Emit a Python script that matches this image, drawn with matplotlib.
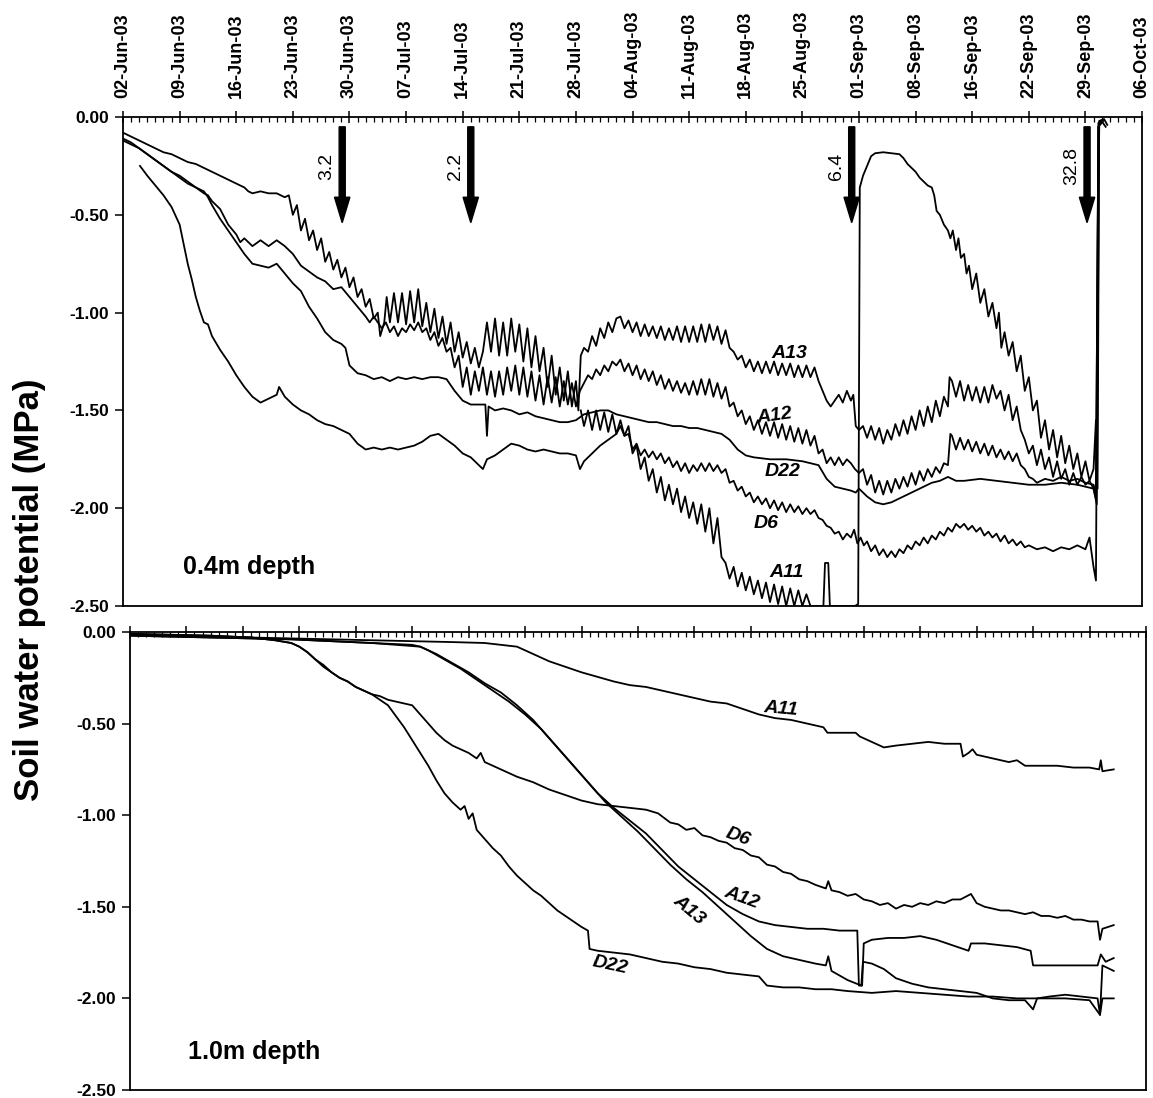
import matplotlib
matplotlib.use("Agg")
import matplotlib.pyplot as plt
from matplotlib.ticker import MultipleLocator

plt.rcParams['font.family'] = ['Liberation Sans', 'DejaVu Sans']

# x axis: days since 02-Jun-03
week_days = list(range(0, 127, 7))
week_labels = ['02-Jun-03', '09-Jun-03', '16-Jun-03', '23-Jun-03', '30-Jun-03',
               '07-Jul-03', '14-Jul-03', '21-Jul-03', '28-Jul-03', '04-Aug-03',
               '11-Aug-03', '18-Aug-03', '25-Aug-03', '01-Sep-03', '08-Sep-03',
               '16-Sep-03', '22-Sep-03', '29-Sep-03', '06-Oct-03']
y_ticks = [0.0, -0.5, -1.0, -1.5, -2.0, -2.5]

# rain events (day, mm)
rain_days = [27.1, 43.0, 90.1, 119.2]
rain_mm = ['3.2', '2.2', '6.4', '32.8']

# ---- 0.4 m depth: (day, soil water potential MPa) ----
top_a13 = [(0, -0.08), (1, -0.10), (2, -0.12), (3, -0.14), (4, -0.16), (5, -0.18), (6, -0.19),
           (7, -0.21), (8, -0.23), (9, -0.24), (10, -0.26), (11, -0.28), (12, -0.30), (13, -0.32),
           (14, -0.34), (15, -0.36), (15.5, -0.38), (16, -0.39), (17, -0.38), (18, -0.39),
           (19, -0.39), (20, -0.41), (20.5, -0.40),
           (21, -0.50), (21.5, -0.45), (22, -0.58), (22.5, -0.52), (23, -0.63), (23.5, -0.58),
           (24, -0.68), (24.5, -0.62), (25, -0.74), (25.5, -0.69), (26, -0.78), (26.5, -0.73),
           (27, -0.82), (27.5, -0.77), (28, -0.87), (28.5, -0.82), (29, -0.92), (29.5, -0.88),
           (30, -0.97), (30.5, -0.93), (31, -1.03), (31.5, -1.00), (31.8, -1.12),
           (32.3, -1.05), (32.6, -0.92), (33, -1.05), (33.5, -0.90), (34, -1.05), (34.5, -0.90),
           (35, -1.06), (35.5, -0.89), (36, -1.05), (36.5, -0.88), (37, -1.07), (37.5, -0.95),
           (38, -1.10), (38.5, -0.98), (39, -1.13), (39.5, -1.02), (40, -1.16), (40.5, -1.05),
           (41, -1.20), (41.5, -1.10), (42, -1.23), (42.5, -1.15), (43, -1.26), (43.5, -1.18),
           (44, -1.28), (44.5, -1.20),
           (45, -1.05), (45.5, -1.20), (46, -1.03), (46.5, -1.22), (47, -1.05), (47.5, -1.22),
           (48, -1.03), (48.5, -1.20), (49, -1.06), (49.5, -1.25), (50, -1.08), (50.5, -1.28),
           (51, -1.12), (51.5, -1.30), (52, -1.18), (52.5, -1.38), (53, -1.22), (53.5, -1.42),
           (54, -1.28), (54.5, -1.45), (55, -1.30), (55.5, -1.48), (56, -1.35), (56.3, -1.50),
           (56.6, -1.22), (57, -1.18), (57.5, -1.20), (58, -1.12), (58.5, -1.17), (59, -1.08),
           (59.5, -1.13), (60, -1.05), (60.5, -1.10), (61, -1.03), (61.5, -1.02), (62, -1.08),
           (62.5, -1.04), (63, -1.10), (63.5, -1.05), (64, -1.12), (64.5, -1.06), (65, -1.12),
           (65.5, -1.07), (66, -1.13), (66.5, -1.07), (67, -1.14), (67.5, -1.08), (68, -1.14),
           (68.5, -1.07), (69, -1.15), (69.5, -1.07), (70, -1.15), (70.5, -1.07), (71, -1.15),
           (71.5, -1.06), (72, -1.15), (72.5, -1.06), (73, -1.14), (73.5, -1.07), (74, -1.16),
           (74.5, -1.09), (75, -1.18), (75.5, -1.20), (76, -1.24), (76.5, -1.22), (77, -1.28),
           (77.5, -1.24), (78, -1.30), (78.5, -1.25), (79, -1.31), (79.5, -1.25), (80, -1.31),
           (80.5, -1.25), (81, -1.32), (81.5, -1.26), (82, -1.32), (82.5, -1.26), (83, -1.33),
           (83.5, -1.27), (84, -1.33), (84.5, -1.27), (85, -1.33), (85.5, -1.28), (86, -1.35),
           (86.5, -1.40), (87, -1.45), (87.5, -1.48), (88, -1.45), (88.5, -1.42), (89, -1.46),
           (89.5, -1.40), (90, -1.45), (90.3, -1.42), (90.6, -1.58),
           (91, -1.60), (91.5, -1.58), (92, -1.64), (92.5, -1.58), (93, -1.65), (93.5, -1.59),
           (94, -1.67), (94.5, -1.60), (95, -1.65), (95.5, -1.57), (96, -1.63), (96.5, -1.55),
           (97, -1.62), (97.5, -1.53), (98, -1.60), (98.5, -1.50), (99, -1.58), (99.5, -1.48),
           (100, -1.56), (100.5, -1.45), (101, -1.53), (101.5, -1.43), (102, -1.48), (102.2, -1.33),
           (102.5, -1.35), (103, -1.43), (103.5, -1.35), (104, -1.45), (104.5, -1.37), (105, -1.45),
           (105.5, -1.38), (106, -1.46), (106.5, -1.38), (107, -1.46), (107.5, -1.37), (108, -1.44),
           (108.5, -1.40), (109, -1.50), (109.5, -1.42), (110, -1.55), (110.5, -1.48), (111, -1.60),
           (111.5, -1.65), (112, -1.72), (112.5, -1.68), (113, -1.78), (113.5, -1.70), (114, -1.80),
           (114.5, -1.74), (115, -1.84), (115.5, -1.76), (116, -1.85), (116.5, -1.80), (117, -1.88),
           (117.5, -1.82), (118, -1.88), (118.5, -1.84), (119, -1.88), (119.5, -1.86), (120, -1.90),
           (120.3, -1.95), (120.6, -0.03), (121, -0.02), (121.5, -0.05)]

top_a12 = [(0, -0.11), (1, -0.13), (2, -0.16), (3, -0.19), (4, -0.22), (5, -0.25), (6, -0.28),
           (7, -0.30), (8, -0.33), (9, -0.36), (10, -0.39), (10.5, -0.40), (11, -0.43), (12, -0.47),
           (13, -0.55), (14, -0.60), (14.5, -0.64), (15, -0.62), (16, -0.66), (17, -0.63),
           (18, -0.66), (19, -0.63), (20, -0.66), (21, -0.70), (22, -0.76), (23, -0.79), (24, -0.82),
           (25, -0.84), (26, -0.88), (27, -0.87), (28, -0.92), (29, -0.97), (30, -1.02), (30.5, -1.05),
           (31, -1.02), (32, -1.08), (32.5, -1.05), (33, -1.10), (33.5, -1.07), (34, -1.12),
           (34.5, -1.08), (35, -1.10), (35.5, -1.06), (36, -1.09), (36.5, -1.05), (37, -1.10),
           (37.5, -1.08), (38, -1.14), (38.5, -1.10), (39, -1.17), (39.5, -1.13), (40, -1.20),
           (40.5, -1.18), (41, -1.28), (41.5, -1.22), (42, -1.38), (42.5, -1.28), (43, -1.42),
           (43.5, -1.30), (44, -1.40), (44.5, -1.28), (45, -1.42), (45.5, -1.30), (46, -1.43),
           (46.5, -1.30), (47, -1.42), (47.5, -1.28), (48, -1.40), (48.5, -1.27), (49, -1.42),
           (49.5, -1.28), (50, -1.43), (50.5, -1.30), (51, -1.45), (51.5, -1.32), (52, -1.47),
           (52.5, -1.33), (53, -1.46), (53.5, -1.33), (54, -1.48), (54.5, -1.35), (55, -1.47),
           (55.5, -1.36), (56, -1.48), (56.5, -1.40),
           (57, -1.36), (57.5, -1.32), (58, -1.34), (58.5, -1.29), (59, -1.32), (59.5, -1.27),
           (60, -1.30), (60.5, -1.25), (61, -1.27), (61.5, -1.24), (62, -1.30), (62.5, -1.26),
           (63, -1.32), (63.5, -1.27), (64, -1.34), (64.5, -1.29), (65, -1.35), (65.5, -1.30),
           (66, -1.37), (66.5, -1.32), (67, -1.39), (67.5, -1.34), (68, -1.40), (68.5, -1.35),
           (69, -1.41), (69.5, -1.36), (70, -1.42), (70.5, -1.35), (71, -1.42), (71.5, -1.34),
           (72, -1.42), (72.5, -1.34), (73, -1.43), (73.5, -1.36), (74, -1.44), (74.5, -1.38),
           (75, -1.48), (75.5, -1.46), (76, -1.53), (76.5, -1.50), (77, -1.57), (77.5, -1.53),
           (78, -1.60), (78.5, -1.55), (79, -1.62), (79.5, -1.56), (80, -1.63), (80.5, -1.56),
           (81, -1.64), (81.5, -1.57), (82, -1.65), (82.5, -1.58), (83, -1.66), (83.5, -1.59),
           (84, -1.67), (84.5, -1.60), (85, -1.68), (85.5, -1.63), (86, -1.72), (86.5, -1.70),
           (87, -1.77), (87.5, -1.74), (88, -1.78), (88.5, -1.74), (89, -1.78), (89.5, -1.75),
           (90, -1.77), (90.5, -1.80),
           (91, -1.82), (91.5, -1.80), (92, -1.88), (92.5, -1.83), (93, -1.92), (93.5, -1.86),
           (94, -1.93), (94.5, -1.86), (95, -1.92), (95.5, -1.85), (96, -1.90), (96.5, -1.84),
           (97, -1.89), (97.5, -1.82), (98, -1.88), (98.5, -1.81), (99, -1.86), (99.5, -1.80),
           (100, -1.84), (100.5, -1.79), (101, -1.82), (101.5, -1.77), (102, -1.78), (102.3, -1.62),
           (102.5, -1.63), (103, -1.70), (103.5, -1.64), (104, -1.70), (104.5, -1.65), (105, -1.71),
           (105.5, -1.66), (106, -1.72), (106.5, -1.67), (107, -1.73), (107.5, -1.68), (108, -1.74),
           (108.5, -1.70), (109, -1.75), (109.5, -1.71), (110, -1.76), (110.5, -1.72), (111, -1.78),
           (111.5, -1.80), (112, -1.84), (112.5, -1.85), (113, -1.87), (114, -1.85), (115, -1.86),
           (116, -1.84), (117, -1.86), (118, -1.85), (119, -1.87), (120, -1.88), (120.3, -1.92),
           (120.6, -0.05), (121, -0.03)]

top_d22 = [(0, -0.12), (1, -0.14), (2, -0.16), (3, -0.19), (4, -0.22), (5, -0.25), (6, -0.28),
           (7, -0.31), (8, -0.34), (9, -0.36), (10, -0.38), (10.5, -0.41), (11, -0.45), (12, -0.52),
           (13, -0.58), (14, -0.64), (15, -0.70), (16, -0.75), (17, -0.76), (18, -0.77), (19, -0.75),
           (20, -0.80), (21, -0.85), (22, -0.89), (23, -0.97), (24, -1.03), (25, -1.10), (26, -1.14),
           (27, -1.16), (27.5, -1.18), (28, -1.27), (29, -1.31), (30, -1.32), (31, -1.34), (32, -1.33),
           (33, -1.35), (34, -1.33), (35, -1.34), (36, -1.33), (37, -1.34), (38, -1.33), (39, -1.33),
           (40, -1.34), (41, -1.40), (42, -1.45), (43, -1.47), (44, -1.47), (44.8, -1.47),
           (45, -1.63), (45.2, -1.48), (46, -1.50), (47, -1.49), (48, -1.50), (49, -1.52), (50, -1.51),
           (51, -1.53), (52, -1.54), (53, -1.55), (54, -1.56), (55, -1.56), (56, -1.55), (57, -1.52),
           (58, -1.51), (59, -1.50), (60, -1.50), (61, -1.52), (62, -1.53), (63, -1.54), (64, -1.55),
           (65, -1.56), (66, -1.56), (67, -1.57), (68, -1.58), (69, -1.58), (70, -1.59), (71, -1.59),
           (72, -1.60), (73, -1.61), (74, -1.62), (75, -1.65), (76, -1.70), (77, -1.73), (78, -1.74),
           (80, -1.75), (82, -1.75), (84, -1.76), (86, -1.78), (87, -1.85), (88, -1.89), (89, -1.90),
           (90, -1.91), (90.6, -1.92), (91, -1.90), (92, -1.94), (93, -1.97), (94, -1.98), (95, -1.97),
           (96, -1.95), (97, -1.93), (98, -1.91), (99, -1.89), (100, -1.87), (101, -1.86),
           (102, -1.84), (103, -1.86), (104, -1.86), (106, -1.85), (108, -1.86), (110, -1.87),
           (112, -1.88), (114, -1.88), (116, -1.87), (118, -1.88), (120, -1.90), (120.4, -1.98),
           (120.7, -0.04), (121.2, -0.02)]

top_d6 = [(2.1, -0.25), (3, -0.30), (4, -0.35), (5, -0.40), (6, -0.46), (7, -0.55), (7.5, -0.65),
          (8, -0.75), (8.5, -0.83), (9, -0.92), (9.5, -0.99), (10, -1.05), (10.5, -1.06), (11, -1.12),
          (12, -1.19), (13, -1.25), (14, -1.32), (15, -1.38), (16, -1.43), (17, -1.46), (18, -1.44),
          (19, -1.42), (19.3, -1.38), (20, -1.43), (21, -1.47), (22, -1.50), (23, -1.52), (24, -1.55),
          (25, -1.57), (26, -1.58), (27, -1.60), (28, -1.62), (29, -1.67), (30, -1.70), (31, -1.69),
          (32, -1.70), (33, -1.69), (34, -1.70), (35, -1.69), (36, -1.68), (37, -1.66), (38, -1.63),
          (39, -1.62), (40, -1.65), (41, -1.68), (42, -1.72), (43, -1.74), (44, -1.78), (44.5, -1.80),
          (45, -1.75), (46, -1.73), (47, -1.70), (48, -1.67), (49, -1.68), (50, -1.70), (51, -1.71),
          (52, -1.70), (53, -1.71), (54, -1.72), (55, -1.72), (56, -1.73), (56.5, -1.80), (57, -1.76),
          (58, -1.72), (59, -1.68), (60, -1.65), (61, -1.62), (61.5, -1.58), (62, -1.63),
          (62.5, -1.62), (63, -1.70), (63.5, -1.67), (64, -1.73), (64.5, -1.70), (65, -1.74),
          (65.5, -1.71), (66, -1.75), (66.5, -1.72), (67, -1.77), (67.5, -1.74), (68, -1.79),
          (68.5, -1.76), (69, -1.81), (69.5, -1.77), (70, -1.82), (70.5, -1.78), (71, -1.81),
          (71.5, -1.77), (72, -1.81), (72.5, -1.77), (73, -1.81), (73.5, -1.78), (74, -1.82),
          (74.5, -1.80), (75, -1.87), (75.5, -1.86), (76, -1.91), (76.5, -1.89), (77, -1.94),
          (77.5, -1.92), (78, -1.97), (78.5, -1.94), (79, -1.98), (79.5, -1.95), (80, -2.00),
          (80.5, -1.96), (81, -2.01), (81.5, -1.97), (82, -2.02), (82.5, -1.98), (83, -2.02),
          (83.5, -1.99), (84, -2.03), (84.5, -2.00), (85, -2.03), (85.5, -2.01), (86, -2.05),
          (86.5, -2.06), (87, -2.09), (87.5, -2.10), (88, -2.13), (88.5, -2.12), (89, -2.16),
          (89.5, -2.13), (90, -2.15), (90.4, -2.11), (90.8, -2.18), (91.2, -2.15), (91.6, -2.19),
          (92, -2.17), (92.5, -2.22), (93, -2.19), (93.5, -2.24), (94, -2.21), (94.5, -2.25),
          (95, -2.22), (95.5, -2.25), (96, -2.21), (96.5, -2.23), (97, -2.19), (97.5, -2.21),
          (98, -2.17), (98.5, -2.19), (99, -2.15), (99.5, -2.18), (100, -2.14), (100.5, -2.16),
          (101, -2.12), (101.5, -2.14), (102, -2.10), (102.5, -2.12), (103, -2.08), (103.5, -2.10),
          (104, -2.08), (104.5, -2.11), (105, -2.09), (105.5, -2.12), (106, -2.10), (106.5, -2.14),
          (107, -2.12), (107.5, -2.15), (108, -2.13), (108.5, -2.17), (109, -2.14), (109.5, -2.18),
          (110, -2.16), (110.5, -2.19), (111, -2.17), (111.5, -2.20), (112, -2.19), (113, -2.21),
          (114, -2.20), (115, -2.22), (116, -2.20), (117, -2.21), (118, -2.19), (119, -2.21),
          (119.5, -2.15), (120, -2.30), (120.3, -2.37), (120.6, -0.05), (121, -0.02)]

top_a11 = [(56.6, -1.50), (57, -1.58), (57.5, -1.50), (58, -1.60), (58.5, -1.50), (59, -1.60),
           (59.5, -1.51), (60, -1.61), (60.5, -1.52), (61, -1.62), (61.5, -1.55), (62, -1.63),
           (62.5, -1.58), (63, -1.72), (63.5, -1.68), (64, -1.80), (64.5, -1.74), (65, -1.86),
           (65.5, -1.80), (66, -1.92), (66.5, -1.84), (67, -1.96), (67.5, -1.88), (68, -1.98),
           (68.5, -1.90), (69, -2.02), (69.5, -1.94), (70, -2.05), (70.5, -1.97), (71, -2.08),
           (71.5, -1.98), (72, -2.12), (72.5, -2.00), (73, -2.18), (73.5, -2.05), (74, -2.25),
           (74.5, -2.28), (75, -2.36), (75.5, -2.30), (76, -2.40), (76.5, -2.33), (77, -2.42),
           (77.5, -2.35), (78, -2.44), (78.5, -2.37), (79, -2.46), (79.5, -2.38), (80, -2.48),
           (80.5, -2.39), (81, -2.49), (81.5, -2.40), (82, -2.50), (82.5, -2.41), (83, -2.50),
           (83.5, -2.42), (84, -2.50), (84.5, -2.44), (85, -2.50), (85.5, -2.50), (86.6, -2.50),
           (86.8, -2.28), (87.2, -2.28), (87.4, -2.50), (90.5, -2.50), (90.9, -2.49),
           (91.1, -0.36), (91.5, -0.30), (92, -0.25), (92.5, -0.20), (93, -0.185), (94, -0.18),
           (95, -0.185), (96, -0.19), (96.5, -0.21), (97, -0.24), (97.5, -0.26), (98, -0.28),
           (98.5, -0.31), (99, -0.33), (99.5, -0.35), (100, -0.36), (100.3, -0.40), (100.6, -0.48),
           (101, -0.50), (101.5, -0.55), (102, -0.58), (102.3, -0.62), (102.6, -0.58), (103, -0.68),
           (103.3, -0.62), (103.6, -0.72), (104, -0.70), (104.3, -0.80), (104.6, -0.76),
           (105, -0.88), (105.5, -0.80), (106, -0.95), (106.5, -0.88), (107, -1.02), (107.5, -0.95),
           (108, -1.08), (108.3, -1.00), (108.6, -1.18), (109, -1.10), (109.5, -1.22), (110, -1.15),
           (110.5, -1.30), (111, -1.22), (111.5, -1.40), (112, -1.33), (112.5, -1.50), (113, -1.45),
           (113.5, -1.64), (114, -1.55), (114.5, -1.70), (115, -1.60), (115.5, -1.74), (116, -1.63),
           (116.5, -1.77), (117, -1.68), (117.5, -1.80), (118, -1.72), (118.5, -1.84), (119, -1.76),
           (119.5, -1.86), (120, -1.80), (120.3, -1.55), (120.5, -1.90), (120.7, -0.02),
           (121.3, -0.01), (121.7, -0.04)]

# ---- 1.0 m depth ----
bot_a11 = [(0, -0.015), (5, -0.02), (10, -0.025), (15, -0.03), (20, -0.035), (25, -0.04),
           (30, -0.045), (35, -0.05), (40, -0.055), (44, -0.06), (48, -0.08), (50, -0.12),
           (52, -0.16), (54, -0.19), (56, -0.22), (58, -0.245), (60, -0.27), (62, -0.29),
           (64, -0.30), (66, -0.32), (68, -0.34), (70, -0.36), (72, -0.38), (74, -0.39),
           (76, -0.42), (78, -0.45), (80, -0.47), (82, -0.48), (84, -0.50), (86, -0.52),
           (86.5, -0.55), (88, -0.55), (90, -0.55), (90.5, -0.57), (92, -0.60), (93.5, -0.63),
           (95, -0.62), (97, -0.61), (99, -0.60), (101, -0.61), (103, -0.61), (103.3, -0.68),
           (104, -0.66), (104.5, -0.64), (105, -0.67), (107, -0.69), (109, -0.71), (110, -0.70),
           (111, -0.73), (113, -0.73), (115, -0.73), (117, -0.74), (119, -0.74), (120.2, -0.75),
           (120.4, -0.70), (120.6, -0.76), (122, -0.75)]

bot_d6 = [(0, -0.01), (5, -0.015), (10, -0.02), (15, -0.03), (18, -0.045), (20, -0.06), (21, -0.08),
          (22, -0.11), (23, -0.15), (24, -0.18), (25, -0.22), (26, -0.25), (27, -0.27), (28, -0.30),
          (29, -0.32), (30, -0.34), (31, -0.35), (32, -0.37), (33, -0.38), (34, -0.39), (35, -0.40),
          (36, -0.45), (37, -0.50), (38, -0.55), (39, -0.59), (40, -0.62), (41, -0.64), (42, -0.66),
          (43, -0.69), (43.5, -0.66), (44, -0.71), (45, -0.73), (46, -0.75), (47, -0.77), (48, -0.79),
          (50, -0.82), (52, -0.86), (54, -0.89), (56, -0.92), (58, -0.94), (60, -0.95), (62, -0.96),
          (64, -0.97), (65.5, -0.99), (67, -1.04), (68, -1.05), (69, -1.08), (70, -1.07), (71, -1.11),
          (72, -1.12), (73, -1.14), (74, -1.15), (75, -1.18), (76, -1.19), (77, -1.22), (78, -1.23),
          (79, -1.27), (80, -1.28), (81, -1.31), (82, -1.32), (83, -1.35), (84, -1.36), (85, -1.38),
          (86.3, -1.40), (86.6, -1.36), (87, -1.41), (88, -1.42), (89, -1.44), (90, -1.43),
          (91, -1.46), (92, -1.47), (93, -1.49), (94, -1.48), (95, -1.51), (96, -1.49), (97, -1.50),
          (98, -1.48), (99, -1.49), (100, -1.47), (101, -1.48), (102, -1.46), (103, -1.46),
          (104.3, -1.43), (105, -1.48), (106, -1.50), (107, -1.51), (108, -1.52), (109, -1.52),
          (110, -1.53), (111, -1.54), (112, -1.53), (113, -1.55), (114, -1.55), (115, -1.56),
          (116, -1.55), (117, -1.57), (118, -1.57), (119, -1.58), (120, -1.58), (120.3, -1.68),
          (120.6, -1.62), (122, -1.60)]

bot_d22 = [(0, -0.01), (5, -0.015), (10, -0.02), (15, -0.03), (18, -0.045), (20, -0.06),
           (21, -0.08), (22, -0.11), (23, -0.15), (24, -0.19), (25, -0.22), (26, -0.25), (27, -0.27),
           (28, -0.30), (29, -0.32), (30, -0.34), (31, -0.37), (32, -0.40), (33, -0.46), (34, -0.52),
           (35, -0.59), (36, -0.66), (37, -0.73), (38, -0.81), (39, -0.88), (40, -0.93), (41, -0.97),
           (41.5, -0.95), (42, -1.02), (42.5, -0.99), (43, -1.08), (44, -1.13), (45, -1.18),
           (46, -1.22), (47, -1.28), (48, -1.33), (49, -1.37), (50, -1.41), (51, -1.44), (52, -1.48),
           (53, -1.52), (54, -1.55), (55, -1.58), (56, -1.61), (56.8, -1.63), (57, -1.73),
           (58, -1.74), (60, -1.75), (62, -1.76), (64, -1.78), (66, -1.80), (68, -1.81), (70, -1.83),
           (72, -1.84), (74, -1.86), (76, -1.87), (78, -1.88), (79, -1.93), (81, -1.94), (83, -1.94),
           (85, -1.95), (87, -1.95), (89, -1.96), (92, -1.97), (95, -1.96), (98, -1.97),
           (101, -1.98), (104, -1.99), (107, -1.99), (110, -2.00), (113, -2.00), (116, -2.00),
           (119, -2.01), (120.3, -2.09), (120.6, -2.00), (122, -2.00)]

bot_a12 = [(0, -0.02), (10, -0.03), (20, -0.04), (25, -0.05), (30, -0.06), (35, -0.07),
           (36, -0.08), (38, -0.12), (40, -0.17), (42, -0.22), (44, -0.28), (46, -0.33), (48, -0.40),
           (50, -0.48), (52, -0.58), (54, -0.68), (56, -0.78), (58, -0.88), (60, -0.96), (62, -1.03),
           (64, -1.10), (66, -1.19), (68, -1.28), (70, -1.35), (72, -1.42), (74, -1.49), (76, -1.54),
           (78, -1.58), (80, -1.60), (82, -1.61), (84, -1.62), (86, -1.62), (88, -1.63),
           (90.2, -1.63), (90.4, -1.93), (90.8, -1.93), (91, -1.70), (92, -1.68), (94, -1.67),
           (96, -1.67), (98, -1.66), (100, -1.68), (102, -1.71), (104, -1.74), (104.3, -1.70),
           (106, -1.70), (108, -1.71), (110, -1.72), (111.7, -1.74), (112, -1.82), (114, -1.82),
           (116, -1.82), (118, -1.82), (120, -1.82), (120.4, -1.76), (121, -1.80), (122, -1.78)]

bot_a13 = [(0, -0.02), (10, -0.03), (20, -0.04), (25, -0.05), (30, -0.06), (36, -0.08),
           (37, -0.10), (39, -0.15), (41, -0.20), (43, -0.26), (45, -0.32), (47, -0.38), (49, -0.45),
           (51, -0.53), (53, -0.63), (55, -0.73), (57, -0.83), (59, -0.93), (61, -1.01), (63, -1.09),
           (65, -1.18), (67, -1.27), (69, -1.35), (71, -1.42), (73, -1.50), (75, -1.58), (77, -1.66),
           (79, -1.73), (81, -1.77), (83, -1.79), (85, -1.81), (86.3, -1.82), (86.6, -1.77),
           (87, -1.85), (89, -1.90), (90.7, -1.93), (90.9, -1.80), (92, -1.81), (93.5, -1.84),
           (95, -1.89), (97, -1.92), (99, -1.94), (101, -1.95), (103, -1.96), (105, -1.97),
           (107, -2.00), (109, -2.01), (111, -2.01), (112, -2.06), (112.5, -2.00), (114, -1.99),
           (116, -1.98), (118, -1.99), (120, -2.00), (120.3, -2.09), (120.6, -1.82), (122, -1.85)]

top_series = [top_a13, top_a12, top_d22, top_d6, top_a11]
bot_series = [bot_a11, bot_d6, bot_d22, bot_a12, bot_a13]

# series name labels: name -> (day, MPa, rotation)
top_names = {'A13': (82.4, -1.21, 0), 'A12': (80.6, -1.53, 8), 'D22': (81.5, -1.81, 0),
             'D6': (79.5, -2.08, 0), 'A11': (82.1, -2.33, 0)}
bot_names = {'A11': (80.7, -0.42, -5), 'D6': (75.4, -1.12, -20), 'A12': (75.9, -1.45, -20),
             'A13': (69.3, -1.52, -40), 'D22': (59.5, -1.82, -12)}


def style_axis(ax, date_labels):
    ax.set_xlim(0, 126)
    ax.set_ylim(-2.5, 0)
    ax.set_xticks(week_days)
    ax.xaxis.set_minor_locator(MultipleLocator(1))
    ax.tick_params(axis='x', which='major', direction='inout', length=9, width=1.1,
                   top=True, bottom=False, labeltop=date_labels, labelbottom=False, pad=9)
    ax.tick_params(axis='x', which='minor', direction='in', length=3.5, width=0.9,
                   top=True, bottom=False)
    if date_labels:
        ax.set_xticklabels(week_labels, rotation=90, fontsize=13, fontweight='bold')
    ax.set_yticks(y_ticks)
    ax.set_yticklabels(['%.2f' % v for v in y_ticks], fontsize=12.5, fontweight='bold')
    ax.tick_params(axis='y', direction='out', length=6, width=1.1, pad=4)
    for s in ax.spines.values():
        s.set_linewidth(1.3)


def draw_series(ax, series):
    for s in series:
        days, vals = zip(*s)
        ax.plot(days, vals, color='black', lw=1.3, clip_on=True)


fig = plt.figure(figsize=(11.53, 10.98), dpi=100)
ax1 = fig.add_axes([0.1067, 0.4481, 0.8838, 0.4453])
ax2 = fig.add_axes([0.1127, 0.0073, 0.8812, 0.4171])

style_axis(ax1, True)
style_axis(ax2, False)

draw_series(ax1, top_series)
draw_series(ax2, bot_series)

for name, (d, v, rot) in top_names.items():
    ax1.text(d, v, name, fontsize=14, fontweight='bold', fontstyle='italic',
             ha='center', va='center', rotation=rot)
for name, (d, v, rot) in bot_names.items():
    ax2.text(d, v, name, fontsize=14, fontweight='bold', fontstyle='italic',
             ha='center', va='center', rotation=rot)

# rain arrows
for d, mm in zip(rain_days, rain_mm):
    ax1.arrow(d, -0.05, 0, -0.49, width=0.75, head_width=1.9, head_length=0.13,
              length_includes_head=True, fc='black', ec='black')
    ax1.text(d - 1.9, -0.25, mm, rotation=90, fontsize=14, ha='center', va='center')

ax1.text(7.4, -2.30, '0.4m depth', fontsize=18, fontweight='bold', ha='left', va='center')
ax2.text(7.2, -2.29, '1.0m depth', fontsize=18, fontweight='bold', ha='left', va='center')

fig.text(0.026, 0.463, 'Soil water potential (MPa)', rotation=90, fontsize=25,
         fontweight='bold', ha='center', va='center')

fig.savefig('out.png', dpi=100)
